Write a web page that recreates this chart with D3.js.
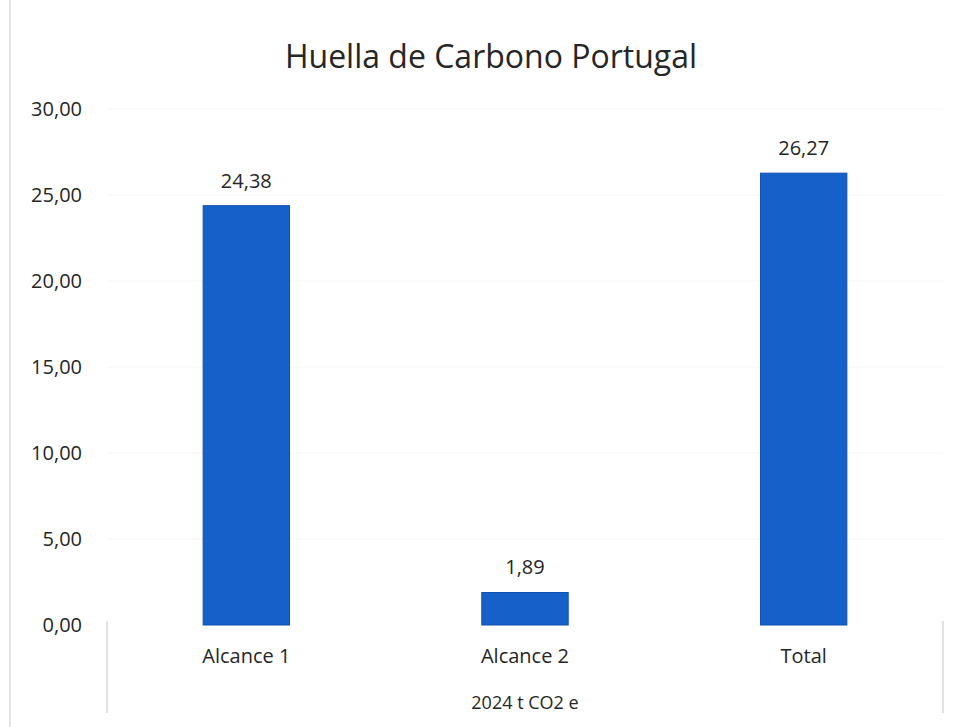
<!DOCTYPE html>
<html>
<head>
<meta charset="utf-8">
<script src="https://cdn.jsdelivr.net/npm/d3@7"></script>
<style>
  body { margin: 0; background: #fff; }
  text { font-family: "Open Sans", "Noto Sans", sans-serif; fill: #262626; }
</style>
</head>
<body>
<div id="chart"></div>
<script>
var categories = ["Alcance 1", "Alcance 2", "Total"];
var values = [24.38, 1.89, 26.27];
var yTicks = [0, 5, 10, 15, 20, 25, 30];
var groupLabel = "2024 t CO2 e";
var title = "Huella de Carbono Portugal";

var svgWidth = 963;
var svgHeight = 727;

var margin = { top: 109, right: 20, bottom: 102, left: 107 };
var width = 943 - margin.left;
var height = svgHeight - margin.top - margin.bottom;

var svg = d3.select("#chart")
  .append("svg")
  .attr("width", svgWidth)
  .attr("height", svgHeight);

// faint scan border on the left
svg.append("line")
  .attr("x1", 10).attr("x2", 10)
  .attr("y1", 0).attr("y2", svgHeight)
  .attr("stroke", "#e6e6e6")
  .attr("stroke-width", 2);

var chartGroup = svg.append("g")
  .attr("transform", `translate(${margin.left}, ${margin.top})`);

var xScale = d3.scaleBand()
  .domain(categories)
  .range([0, width])
  .paddingInner(0.69)
  .paddingOuter(0.345);

var yScale = d3.scaleLinear()
  .domain([0, 30])
  .range([height, 0]);

// gridlines (very light)
chartGroup.selectAll(".grid")
  .data(yTicks.slice(1))
  .enter()
  .append("line")
  .attr("x1", 0)
  .attr("x2", width)
  .attr("y1", d => yScale(d))
  .attr("y2", d => yScale(d))
  .attr("stroke", "#f6f6f6")
  .attr("stroke-width", 1);

// y axis labels
var leftAxis = d3.axisLeft(yScale)
  .tickValues(yTicks)
  .tickSize(0)
  .tickPadding(25)
  .tickFormat(d => d3.format(".2f")(d).replace(".", ","));

var yAxis = chartGroup.append("g").call(leftAxis);
yAxis.select(".domain").remove();
yAxis.selectAll("text").attr("font-size", "20px").style("font-family", "'Open Sans', sans-serif");

// bars
chartGroup.selectAll("rect")
  .data(values)
  .enter()
  .append("rect")
  .attr("x", (d, i) => xScale(categories[i]))
  .attr("y", d => yScale(d))
  .attr("width", xScale.bandwidth())
  .attr("height", d => height - yScale(d))
  .attr("fill", "#1561c9")
  .attr("stroke", "#0f50b0")
  .attr("stroke-width", 1);

// data labels
chartGroup.selectAll(".dataLabel")
  .data(values)
  .enter()
  .append("text")
  .attr("x", (d, i) => xScale(categories[i]) + xScale.bandwidth() / 2)
  .attr("y", d => yScale(d) - 18)
  .attr("text-anchor", "middle")
  .attr("font-size", "20px")
  .text(d => d3.format(".2f")(d).replace(".", ","));

// category axis
var bottomAxis = d3.axisBottom(xScale).tickSize(0).tickPadding(24);
var xAxis = chartGroup.append("g")
  .attr("transform", `translate(0, ${height})`)
  .call(bottomAxis);
xAxis.select(".domain").remove();
xAxis.selectAll("text").attr("font-size", "20px").style("font-family", "'Open Sans', sans-serif");

// multi-level group borders
[0, width].forEach(function(x) {
  chartGroup.append("line")
    .attr("x1", x).attr("x2", x)
    .attr("y1", height - 4).attr("y2", height + 88)
    .attr("stroke", "#e2e2e2")
    .attr("stroke-width", 2);
});

chartGroup.append("text")
  .attr("x", width / 2)
  .attr("y", height + 84)
  .attr("text-anchor", "middle")
  .attr("font-size", "18px")
  .text(groupLabel);

svg.append("text")
  .attr("x", 491)
  .attr("y", 68)
  .attr("text-anchor", "middle")
  .attr("font-size", "32px")
  .text(title);
</script>
</body>
</html>
